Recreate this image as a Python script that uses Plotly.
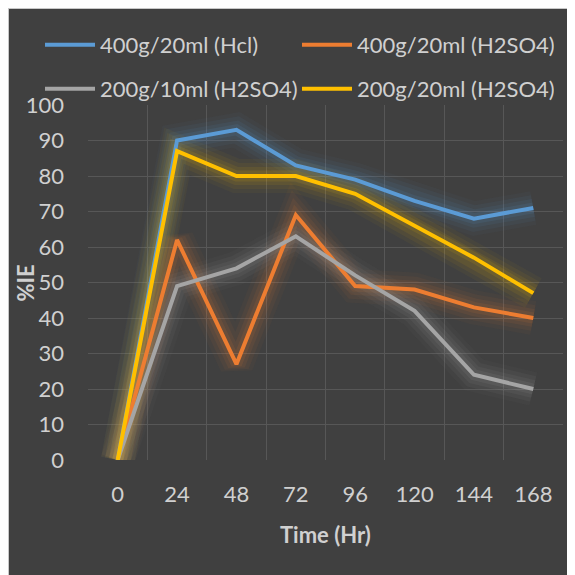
import plotly.graph_objects as go

time_hr = ["0", "24", "48", "72", "96", "120", "144", "168"]
hcl_400_20 = [0, 90, 93, 83, 79, 73, 68, 71]
h2so4_400_20 = [0, 62, 27, 69, 49, 48, 43, 40]
h2so4_200_10 = [0, 49, 54, 63, 52, 42, 24, 20]
h2so4_200_20 = [0, 87, 80, 80, 75, 66, 57, 47]

series = [
    ("400g/20ml (Hcl)", hcl_400_20, (91, 155, 213), "legend"),
    ("400g/20ml (H2SO4)", h2so4_400_20, (237, 125, 49), "legend"),
    ("200g/10ml (H2SO4)", h2so4_200_10, (165, 165, 165), "legend2"),
    ("200g/20ml (H2SO4)", h2so4_200_20, (255, 192, 0), "legend2"),
]

# figure sits inside the page body's 8px margin
W, H = 567, 567
L, R, T, B = 80, 12, 97, 115
PW, PH = W - L - R, H - T - B

def px(p):
    return (p - L) / PW

def py(p):
    return (H - B - p) / PH

fig = go.Figure()

# soft glow layers under each line
for name, vals, (r, g, b), lg in series:
    for w, a in [(34, 0.04), (26, 0.06), (18, 0.08), (11, 0.10)]:
        fig.add_trace(go.Scatter(
            x=time_hr, y=vals, mode="lines",
            line=dict(color=f"rgba({r},{g},{b},{a})", width=w),
            showlegend=False, hoverinfo="skip"))

for name, vals, (r, g, b), lg in series:
    fig.add_trace(go.Scatter(
        x=time_hr, y=vals, mode="lines", name=name, legend=lg,
        line=dict(color=f"rgb({r},{g},{b})", width=4)))

font = "Lato, 'Open Sans', sans-serif"
txt = "#d0d0d0"
grid = "#575757"

leg_common = dict(
    orientation="h", xanchor="left", yanchor="middle",
    entrywidth=192, entrywidthmode="pixels", itemwidth=50,
    font=dict(family=font, size=22, color=txt),
    bgcolor="rgba(0,0,0,0)", traceorder="normal",
)

fig.update_layout(
    width=W, height=H,
    margin=dict(l=L, r=R, t=T, b=B, pad=0),
    paper_bgcolor="#404040",
    plot_bgcolor="#404040",
    font=dict(family=font, size=22, color=txt),
    showlegend=True,
    legend=dict(x=px(32), y=py(37), **leg_common),
    legend2=dict(x=px(32), y=py(81), **leg_common),
    shapes=[
        dict(type="line", xref="paper", yref="paper",
             x0=px(0.5), x1=px(0.5), y0=py(0), y1=py(H),
             line=dict(color="#c8c8c8", width=1), layer="below"),
        dict(type="line", xref="paper", yref="paper",
             x0=px(0), x1=px(W), y0=py(0.5), y1=py(0.5),
             line=dict(color="#c8c8c8", width=1), layer="below"),
    ],
    annotations=[
        dict(text="<b>%IE</b>", xref="paper", yref="paper",
             x=px(17), y=0.5, xanchor="center", yanchor="middle",
             textangle=-90, showarrow=False,
             font=dict(family=font, size=22, color=txt)),
        dict(text="<b>Time (Hr)</b>", xref="paper", yref="paper",
             x=0.5, y=py(526), xanchor="center", yanchor="middle",
             showarrow=False,
             font=dict(family=font, size=22, color=txt)),
    ],
    xaxis=dict(
        type="category", range=[-0.5, 7.5], tickson="boundaries",
        showgrid=True, gridcolor=grid, gridwidth=1,
        ticks="", showline=False, zeroline=False,
        ticklabelstandoff=19,
        tickfont=dict(family=font, size=22, color=txt),
    ),
    yaxis=dict(
        range=[0, 100], dtick=10, tick0=0,
        showgrid=True, gridcolor=grid, gridwidth=1,
        ticks="", showline=False, zeroline=False,
        ticklabelstandoff=23,
        tickfont=dict(family=font, size=22, color=txt),
    ),
)

fig.write_html("out.html")
